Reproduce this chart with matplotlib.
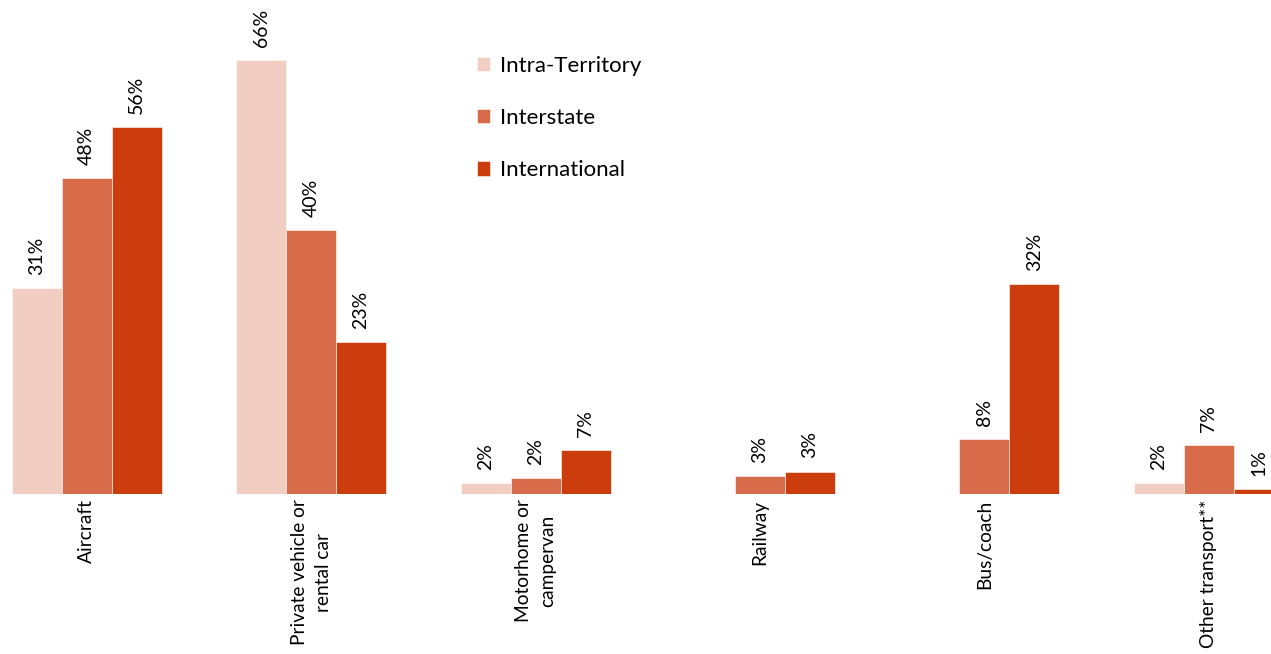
import matplotlib.pyplot as plt
import numpy as np

plt.rcParams['font.family'] = ['Lato', 'DejaVu Sans']

categories = ["Aircraft", "Private vehicle or\nrental car", "Motorhome or\ncampervan",
              "Railway", "Bus/coach", "Other transport**"]
series = ["Intra-Territory", "Interstate", "International"]
intra = [31.3, 66.0, 1.6, 0, 0, 1.6]
interstate = [48.0, 40.1, 2.4, 2.7, 8.4, 7.4]
international = [55.8, 23.1, 6.7, 3.4, 31.9, 0.8]
colors = ["#F2CEC2", "#D86C4A", "#CB3D0C"]

W, H = 1271, 654
fig = plt.figure(figsize=(W / 100, H / 100), dpi=100)
# plot area runs past the left/right edges, like the original export
left_px, right_px = -25.5, 1321
base_px = 494
ax = fig.add_axes([left_px / W, (H - base_px) / H, (right_px - left_px) / W, base_px / H])

x = np.arange(len(categories))
bw = 0.2227
for i, (vals, c) in enumerate(zip([intra, interstate, international], colors)):
    pos = x + (i - 1) * bw
    ax.bar(pos, vals, bw, color=c, edgecolor="white", linewidth=0.4, label=series[i])
    for px, v in zip(pos, vals):
        if v <= 0:
            continue
        ax.annotate(f"{v:.0f}%", (px, v), xytext=(0, 9.5), textcoords="offset points",
                    rotation=90, ha="center", va="bottom", fontsize=14)

ax.set_xlim(-0.5, len(categories) - 0.5)
ax.set_ylim(0, base_px / 6.58)
ax.set_yticks([])
ax.set_xticks(x)
ax.set_xticklabels(categories, rotation=90, fontsize=13.8, ha="center", va="top",
                   multialignment="center", linespacing=1.5)
ax.tick_params(axis="x", length=0, pad=4)
for s in ax.spines.values():
    s.set_visible(False)

ax.legend(loc="upper left", bbox_to_anchor=(468 / W, 1 - 47 / H), bbox_transform=fig.transFigure,
          frameon=False, fontsize=16, handlelength=0.6, handleheight=0.6,
          handletextpad=0.45, labelspacing=1.45, borderaxespad=0)

fig.savefig("out.png", dpi=100)
